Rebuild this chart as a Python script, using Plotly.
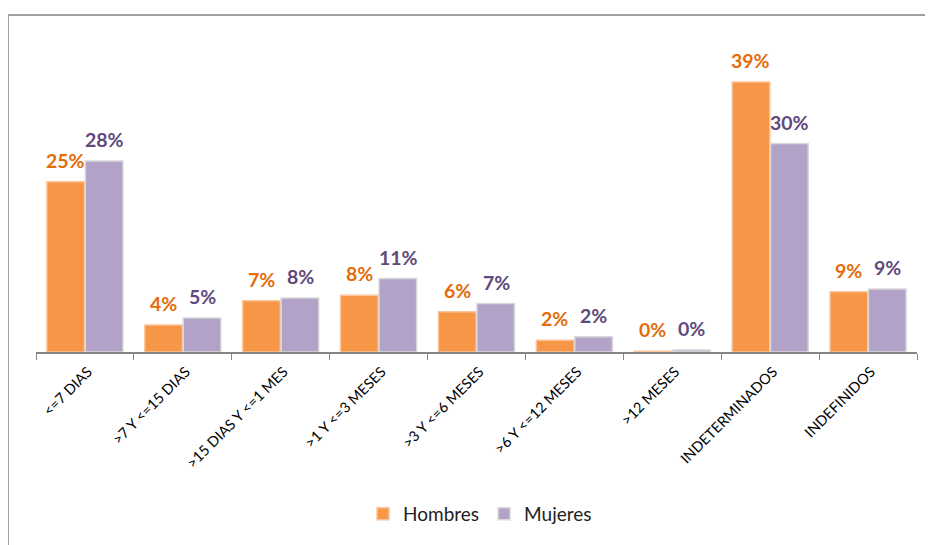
import plotly.graph_objects as go

categories = ["<=7 DIAS", ">7 Y <=15 DIAS", ">15 DIAS Y <=1 MES", ">1 Y <=3 MESES",
              ">3 Y <=6 MESES", ">6 Y <=12 MESES", ">12 MESES", "INDETERMINADOS", "INDEFINIDOS"]
hombres = [24.6, 3.9, 7.4, 8.2, 5.8, 1.7, 0.1, 39.0, 8.7]
mujeres = [27.6, 4.9, 7.8, 10.6, 7.0, 2.2, 0.3, 30.1, 9.1]

FONT = "Lato"

fig = go.Figure()
fig.add_trace(go.Bar(
    name="Hombres", x=categories, y=hombres,
    marker=dict(color="#f79646", line=dict(color="#fbc49a", width=1.5)),
))
fig.add_trace(go.Bar(
    name="Mujeres", x=categories, y=mujeres,
    marker=dict(color="#b3a2c7", line=dict(color="#d9d9d9", width=1.5)),
))

annotations = []
for series, color, shift in ((hombres, "#e46c0a", -19.5), (mujeres, "#604a7b", 19.5)):
    for cat, val in zip(categories, series):
        annotations.append(dict(
            x=cat, y=val, xref="x", yref="y", text=f"{round(val)}%", showarrow=False,
            xanchor="center", yanchor="bottom", xshift=shift, yshift=8,
            font=dict(family=FONT, size=19.5, color=color, weight="bold"),
        ))

fig.update_layout(
    width=933, height=545,
    margin=dict(l=28, r=24, t=22, b=201, autoexpand=False),
    paper_bgcolor="white", plot_bgcolor="white",
    barmode="group", bargap=0.215, bargroupgap=0.02,
    font=dict(family=FONT, color="black"),
    showlegend=True,
    legend=dict(orientation="h", x=0.504, xanchor="center", y=-0.503, yanchor="middle",
                font=dict(size=19, color="#222", family=FONT), itemwidth=30,
                traceorder="normal", tracegroupgap=0),
    xaxis=dict(
        type="category", tickangle=-45, tickson="boundaries", ticks="outside",
        ticklen=6, tickcolor="#868686", showline=True, linecolor="#868686", linewidth=1.5,
        tickfont=dict(size=14.5, family=FONT, color="black"), showgrid=False, automargin=False,
        ticklabelstandoff=4, ticklabelshift=3,
    ),
    yaxis=dict(range=[0, 46.5], visible=False, showgrid=False, zeroline=False, automargin=False),
    annotations=annotations,
    shapes=[
        dict(type="line", xref="paper", yref="paper", x0=-0.0318, x1=-0.0318, y0=1.0466, y1=-0.7,
             line=dict(color="#a0a0a0", width=2)),
        dict(type="line", xref="paper", yref="paper", x0=-0.0318, x1=1.05, y0=1.0466, y1=1.0466,
             line=dict(color="#a0a0a0", width=2)),
    ],
)

fig.write_html("out.html")
